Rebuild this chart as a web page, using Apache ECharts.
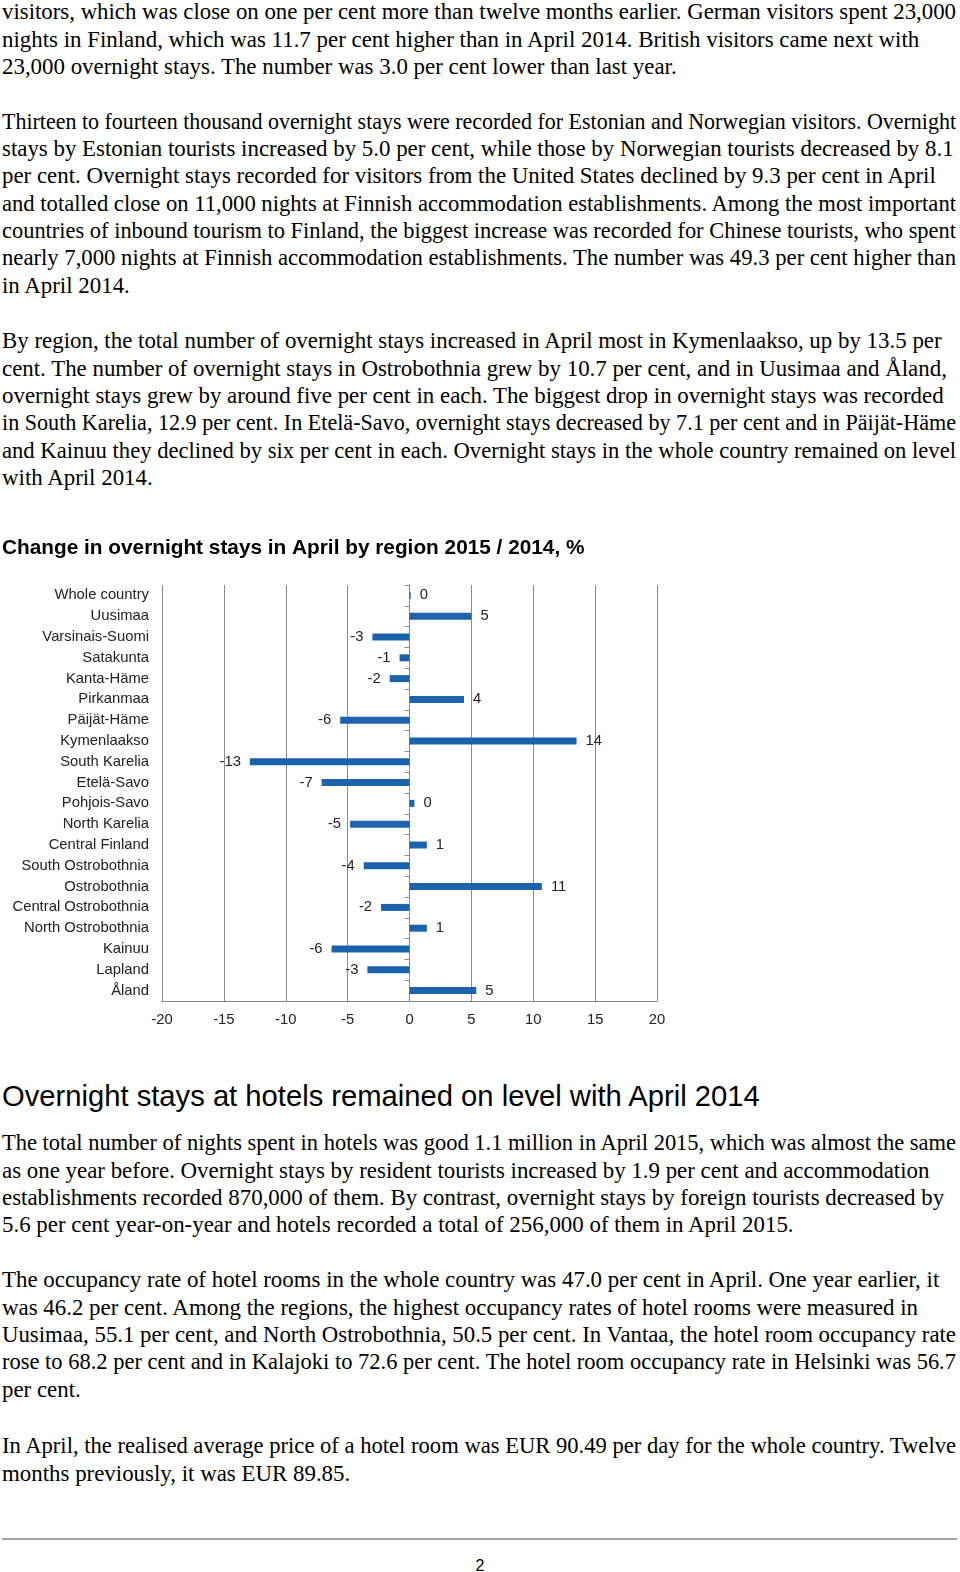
<!DOCTYPE html>
<html>
<head>
<meta charset="utf-8">
<script src="https://cdn.jsdelivr.net/npm/echarts@6/dist/echarts.min.js"></script>
<style>
  html, body { margin:0; padding:0; background:#fff; }
  body { width:960px; height:1572px; position:relative; overflow:hidden; }
  .para { position:absolute; left:2px; font-family:"Liberation Serif","Times New Roman",serif; font-size:22.9px; color:#000; }
  .para div { white-space:nowrap; height:27.35px; line-height:27.35px; }
  .para span { display:inline-block; }
  #h2 { position:absolute; left:2px; top:1079px; font-family:"Liberation Sans",Arial,sans-serif; font-size:29.2px; line-height:34px; color:#000; white-space:nowrap; }
  #rule { position:absolute; left:2px; top:1538px; width:955px; height:2px; background:#a3a3a3; }
  #pg { position:absolute; left:0; width:960px; top:1556px; text-align:center; font-family:"Liberation Sans",Arial,sans-serif; font-size:16px; line-height:20px; color:#000; }
  #chart { position:absolute; left:0; top:525px; width:960px; height:520px; }
</style>
</head>
<body>
<div class="para" id="p1" style="top:-1.7px"></div>
<div class="para" id="p2" style="top:107.6px"></div>
<div class="para" id="p3" style="top:327.3px"></div>
<div id="chart"></div>
<div id="h2">Overnight stays at hotels remained on level with April 2014</div>
<div class="para" id="p4" style="top:1129.3px"></div>
<div class="para" id="p5" style="top:1266.3px"></div>
<div class="para" id="p6" style="top:1432.3px"></div>
<div id="rule"></div>
<div id="pg">2</div>
<script>
// ---- text ----
const p1Lines = [
  "visitors, which was close on one per cent more than twelve months earlier. German visitors spent 23,000",
  "nights in Finland, which was 11.7 per cent higher than in April 2014. British visitors came next with",
  "23,000 overnight stays. The number was 3.0 per cent lower than last year."
];
const p2Lines = [
  "Thirteen to fourteen thousand overnight stays were recorded for Estonian and Norwegian visitors. Overnight",
  "stays by Estonian tourists increased by 5.0 per cent, while those by Norwegian tourists decreased by 8.1",
  "per cent. Overnight stays recorded for visitors from the United States declined by 9.3 per cent in April",
  "and totalled close on 11,000 nights at Finnish accommodation establishments. Among the most important",
  "countries of inbound tourism to Finland, the biggest increase was recorded for Chinese tourists, who spent",
  "nearly 7,000 nights at Finnish accommodation establishments. The number was 49.3 per cent higher than",
  "in April 2014."
];
const p3Lines = [
  "By region, the total number of overnight stays increased in April most in Kymenlaakso, up by 13.5 per",
  "cent. The number of overnight stays in Ostrobothnia grew by 10.7 per cent, and in Uusimaa and Åland,",
  "overnight stays grew by around five per cent in each. The biggest drop in overnight stays was recorded",
  "in South Karelia, 12.9 per cent. In Etelä-Savo, overnight stays decreased by 7.1 per cent and in Päijät-Häme",
  "and Kainuu they declined by six per cent in each. Overnight stays in the whole country remained on level",
  "with April 2014."
];
const p4Lines = [
  "The total number of nights spent in hotels was good 1.1 million in April 2015, which was almost the same",
  "as one year before. Overnight stays by resident tourists increased by 1.9 per cent and accommodation",
  "establishments recorded 870,000 of them. By contrast, overnight stays by foreign tourists decreased by",
  "5.6 per cent year-on-year and hotels recorded a total of 256,000 of them in April 2015."
];
const p5Lines = [
  "The occupancy rate of hotel rooms in the whole country was 47.0 per cent in April. One year earlier, it",
  "was 46.2 per cent. Among the regions, the highest occupancy rates of hotel rooms were measured in",
  "Uusimaa, 55.1 per cent, and North Ostrobothnia, 50.5 per cent. In Vantaa, the hotel room occupancy rate",
  "rose to 68.2 per cent and in Kalajoki to 72.6 per cent. The hotel room occupancy rate in Helsinki was 56.7",
  "per cent."
];
const p6Lines = [
  "In April, the realised average price of a hotel room was EUR 90.49 per day for the whole country. Twelve",
  "months previously, it was EUR 89.85."
];

// ---- chart data ----
const chartTitle = "Change in overnight stays in April by region 2015 / 2014, %";
const regions = ["Whole country","Uusimaa","Varsinais-Suomi","Satakunta","Kanta-Häme","Pirkanmaa","Päijät-Häme","Kymenlaakso","South Karelia","Etelä-Savo","Pohjois-Savo","North Karelia","Central Finland","South Ostrobothnia","Ostrobothnia","Central Ostrobothnia","North Ostrobothnia","Kainuu","Lapland","Åland"];
const changePct = [0.1, 5.0, -3.0, -0.8, -1.6, 4.4, -5.6, 13.5, -12.9, -7.1, 0.4, -4.8, 1.4, -3.7, 10.7, -2.3, 1.4, -6.3, -3.4, 5.4];
const xMin = -20, xMax = 20, xStep = 5;

function fill(id, lines) {
  const el = document.getElementById(id);
  lines.forEach(t => {
    const d = document.createElement('div');
    const s = document.createElement('span');
    s.textContent = t;
    d.appendChild(s);
    el.appendChild(d);
  });
}
fill('p1', p1Lines); fill('p2', p2Lines); fill('p3', p3Lines);
fill('p4', p4Lines); fill('p5', p5Lines); fill('p6', p6Lines);
// keep lines inside the page width
document.querySelectorAll('.para span').forEach(s => {
  const w = s.getBoundingClientRect().width;
  const maxW = 954;
  if (w > maxW) {
    s.style.transformOrigin = '0 50%';
    s.style.transform = 'scaleX(' + (maxW / w) + ')';
  }
});

const FONT = '"Liberation Sans", Arial, sans-serif';
const chart = echarts.init(document.getElementById('chart'), null, {renderer: 'canvas'});
chart.setOption({
  animation: false,
  backgroundColor: '#fff',
  title: {
    text: chartTitle, left: 2, top: 13, padding: 0,
    textStyle: { fontFamily: FONT, fontSize: 20.8, fontWeight: 'bold', color: '#000' }
  },
  grid: { left: 162, top: 60, width: 495, height: 416, containLabel: false, outerBoundsMode: 'none' },
  xAxis: {
    type: 'value', min: xMin, max: xMax, interval: xStep,
    axisLine: { show: true, onZero: false, lineStyle: { color: '#8a8a8a', width: 1 } },
    axisTick: { show: false },
    splitLine: { show: true, lineStyle: { color: '#8a8a8a', width: 1 } },
    axisLabel: { fontFamily: FONT, fontSize: 14.8, color: '#222', margin: 11 }
  },
  yAxis: [
    {
      type: 'category', data: regions, inverse: true, position: 'left',
      axisLine: { show: false, onZero: false }, axisTick: { show: false },
      splitLine: { show: false },
      axisLabel: { fontFamily: FONT, fontSize: 14.8, color: '#222', margin: 13 }
    },
    {
      type: 'category', data: regions, inverse: true, position: 'left',
      axisLine: { show: true, onZero: true, lineStyle: { color: '#8a8a8a', width: 1 } },
      axisTick: { show: true, length: 5, lineStyle: { color: '#8a8a8a' } },
      axisLabel: { show: false }, splitLine: { show: false }
    }
  ],
  series: [{
    type: 'bar', yAxisIndex: 0, barWidth: 7,
    itemStyle: { color: '#1c63ae' },
    data: changePct.map(v => ({
      value: v,
      label: { show: true, position: v < 0 ? 'left' : 'right', distance: 9 }
    })),
    label: {
      fontFamily: FONT, fontSize: 14.8, color: '#222',
      formatter: p => String(Math.round(p.value) === 0 ? 0 : Math.round(p.value))
    }
  }]
});
</script>
</body>
</html>
